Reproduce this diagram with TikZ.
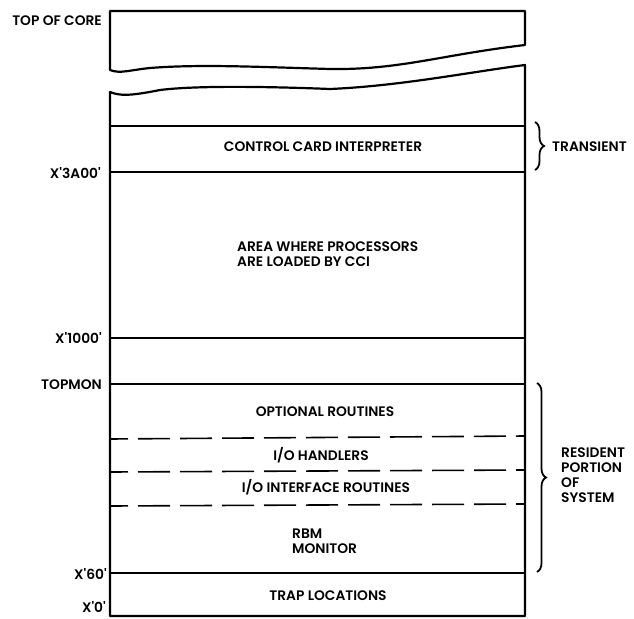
\documentclass[tikz,border=0pt]{standalone}
\usepackage{fontspec}
\setmainfont{Poppins}[BoldFont={* SemiBold}]
\usetikzlibrary{decorations.pathreplacing}
\newcommand{\q}{\textquotesingle}
\begin{document}
\begin{tikzpicture}[x=1pt,y=-1pt,
  outline/.style={line width=2.2pt,line join=round},
  divider/.style={line width=1.6pt},
  dashdiv/.style={line width=1.6pt,dash pattern=on 32pt off 10pt,dash phase=14pt},
  lbl/.style={inner sep=0pt,font=\fontsize{13.8}{15}\selectfont\bfseries},
  addr/.style={lbl,anchor=east},
  bracestyle/.style={line width=1.8pt,decorate,decoration={brace,amplitude=9pt}}]
\useasboundingbox (0,0) rectangle (634,618);
% top piece
\draw[outline] (110,11) -- (525,11) -- (525,45)
  .. controls (440,55) and (400,70) .. (330,69)
  .. controls (260,67) and (200,64) .. (150,68)
  .. controls (130,70) and (120,74) .. (110,70) -- cycle;
% lower piece
\draw[outline] (110,616) -- (110,92)
  .. controls (120,96) and (130,96) .. (160,90)
  .. controls (200,85) and (280,87) .. (330,89)
  .. controls (400,86) and (470,72) .. (525,65) -- (525,616) -- cycle;
% dividers
\coordinate (l1) at (110,126); \coordinate (r1) at (525,126);
\coordinate (l2) at (110,172); \coordinate (r2) at (525,172);
\coordinate (l3) at (110,338); \coordinate (r3) at (525,338);
\coordinate (l4) at (110,384); \coordinate (r4) at (525,384);
\coordinate (l5) at (110,573); \coordinate (r5) at (525,573);
\coordinate (d1l) at (110,439); \coordinate (d1r) at (525,436);
\coordinate (d2l) at (110,472); \coordinate (d2r) at (525,470);
\coordinate (d3l) at (110,506); \coordinate (d3r) at (525,504);
\foreach \i in {1,...,5} \draw[divider] (l\i) -- (r\i);
\foreach \i in {1,2,3} \draw[dashdiv] (d\i l) -- (d\i r);
% address labels
\node[addr] (topcore) at (102,21) {TOP OF CORE};
\node[addr] (a3a00) at (101,173) {X\q3A00\q};
\node[addr] (a1000) at (102,338) {X\q1000\q};
\node[addr] (topmon) at (102,385) {TOPMON};
\node[addr] (a60) at (107,574) {X\q60\q};
\node[addr] (a0) at (106,607) {X\q0\q};
% region labels
\node[lbl] (cci) at (323,147) {CONTROL CARD INTERPRETER};
\node[lbl,align=left,anchor=west] (area) at (237,254.5) {AREA WHERE PROCESSORS\\ARE LOADED BY CCI};
\node[lbl] (opt) at (325,412) {OPTIONAL ROUTINES};
\node[lbl] (ioh) at (321,455) {I/O HANDLERS};
\node[lbl] (ioi) at (326,487) {I/O INTERFACE ROUTINES};
\node[lbl,align=left,anchor=west] (rbm) at (292,541) {RBM\\MONITOR};
\node[lbl] (trap) at (328,596) {TRAP LOCATIONS};
% braces
\coordinate (t1) at (535,122); \coordinate (t2) at (535,170);
\coordinate (s1) at (537,383); \coordinate (s2) at (537,572);
\draw[bracestyle] (t1) -- (t2);
\draw[bracestyle] (s1) -- (s2);
\node[lbl,anchor=west] (trans) at (552,147) {TRANSIENT};
\node[lbl,align=left,anchor=west] (res) at (561,475.5) {RESIDENT\\PORTION\\OF\\SYSTEM};
\end{tikzpicture}
\end{document}
